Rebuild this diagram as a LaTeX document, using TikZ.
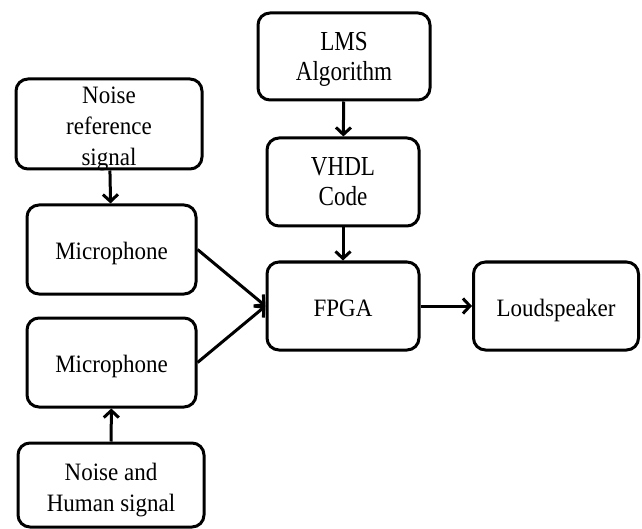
\documentclass[tikz,border=0pt]{standalone}
\usepackage{fontspec}
\setmainfont[FakeStretch=0.92]{Liberation Serif}
\newfontfamily\tallfont[FakeStretch=0.84]{Liberation Serif}
\usetikzlibrary{arrows.meta}
\begin{document}
\begin{tikzpicture}[x=1pt,y=-1pt,
  blk/.style={draw, line width=3pt, rounded corners=12pt, inner sep=0pt},
  txt/.style={inner sep=0pt, align=center, font=\fontsize{25}{31}\selectfont},
  tall/.style={inner sep=0pt, align=center, font=\tallfont\fontsize{27.5}{30}\selectfont},
  arr/.style={line width=3pt, -{Straight Barb[length=7pt,width=15pt]}}]
\useasboundingbox (0,0) rectangle (642,529);
\node[blk, minimum width=172pt, minimum height=87pt,
  label={[tall, yshift=-3pt]center:{LMS\\Algorithm}}] (lms) at (344,56.5) {};
\node[blk, minimum width=152pt, minimum height=88pt,
  label={[tall]center:{VHDL\\Code}}] (vhdl) at (343,182) {};
\node[blk, minimum width=152pt, minimum height=88pt,
  label={[txt, yshift=-2pt]center:{FPGA}}] (fpga) at (343,306) {};
\node[blk, minimum width=165pt, minimum height=88pt,
  label={[txt, yshift=-4pt]center:{Loudspeaker}}] (spk) at (556,306) {};
\node[blk, minimum width=186pt, minimum height=90pt,
  label={[txt, yshift=-5pt]center:{Noise\\reference\\signal}}] (nref) at (109,124) {};
\node[blk, minimum width=169pt, minimum height=89pt,
  label={[txt, yshift=-4pt]center:{Microphone}}] (mic1) at (111.5,249.5) {};
\node[blk, minimum width=169pt, minimum height=89pt,
  label={[txt, yshift=-4pt]center:{Microphone}}] (mic2) at (111.5,362.5) {};
\node[blk, minimum width=186pt, minimum height=84pt,
  label={[txt, yshift=-5pt]center:{Noise and\\Human signal}}] (nh) at (111,485) {};
\draw[arr] (lms) -- (vhdl);
\draw[arr] (vhdl) -- (fpga);
\draw[arr] (fpga) -- (spk);
\draw[arr] (nref) -- (mic1);
\draw[arr] (nh) -- (mic2);
\draw[arr] (mic1.east) -- (fpga.west);
\draw[arr] (mic2.east) -- (fpga.west);
\end{tikzpicture}
\end{document}
